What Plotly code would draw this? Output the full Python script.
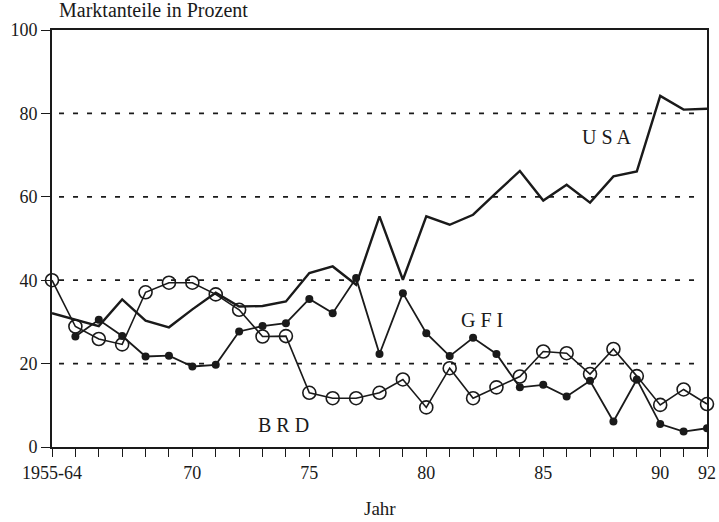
import plotly.graph_objects as go

years = list(range(64, 93))

usa = [32.1, 30.5, 29.0, 35.4, 30.3, 28.7, 33.0, 37.0, 33.7, 33.8, 34.9, 41.7, 43.3, 38.9, 55.3, 40.1,
       55.3, 53.3, 55.7, 61.0, 66.2, 59.1, 62.9, 58.6, 64.9, 66.1, 84.2, 80.9, 81.1]

gfi_years = list(range(65, 93))
gfi = [26.5, 30.5, 26.6, 21.7, 21.9, 19.3, 19.7, 27.7, 29.0, 29.7, 35.5, 32.1, 40.5, 22.3, 36.9,
       27.3, 21.8, 26.2, 22.3, 14.3, 14.9, 12.1, 15.9, 6.1, 16.2, 5.5, 3.7, 4.5]

brd = [40.0, 28.9, 25.9, 24.6, 37.1, 39.4, 39.4, 36.6, 32.9, 26.5, 26.6, 13.0, 11.7, 11.7, 13.0,
       16.2, 9.5, 18.9, 11.7, 14.3, 16.9, 22.9, 22.5, 17.5, 23.5, 17.0, 10.1, 13.8, 10.3]

tick_vals = years
tick_labels = {64: "1955-64", 70: "70", 75: "75", 80: "80", 85: "85", 90: "90", 92: "92"}
y_ticks = [0, 20, 40, 60, 80, 100]
grid_levels = [20, 40, 60, 80]

series_labels = [("U S A", 87.7, 74.3), ("G F I", 82.4, 30.5), ("B R D", 73.9, 5.3)]

FONT = "Liberation Serif"
INK = "#1a1a1a"

W, H = 719, 522
ml, mt = 52, 30
mr = W - 707
mb = H - 447
pw, ph = W - ml - mr, H - mt - mb

fig = go.Figure()

for g in grid_levels:
    fig.add_shape(type="line", xref="x", yref="y", x0=64.3, x1=91.8, y0=g, y1=g,
                  line=dict(color=INK, width=1.8, dash="5px,9px"), layer="below")

fig.add_trace(go.Scatter(x=years, y=usa, mode="lines", line=dict(color=INK, width=2.4),
                         showlegend=False))
fig.add_trace(go.Scatter(x=gfi_years, y=gfi, mode="lines+markers", line=dict(color=INK, width=1.8),
                         marker=dict(symbol="circle", size=8, color=INK), showlegend=False))
fig.add_trace(go.Scatter(x=years, y=brd, mode="lines+markers", line=dict(color=INK, width=1.6),
                         marker=dict(symbol="circle-open", size=13, color=INK, line=dict(width=1.6)),
                         showlegend=False, cliponaxis=False))

for txt, xv, yv in series_labels:
    fig.add_annotation(x=xv, y=yv, xref="x", yref="y", text=txt, showarrow=False,
                       font=dict(family=FONT, size=20, color=INK))

fig.add_annotation(x=(57 - ml) / pw, y=(H - 23 - mb) / ph, xref="paper", yref="paper",
                   xanchor="left", yanchor="bottom",
                   text="Marktanteile in Prozent", showarrow=False,
                   font=dict(family=FONT, size=20, color=INK))

fig.add_annotation(x=(380 - ml) / pw, y=(H - 508 - mb) / ph, xref="paper", yref="paper",
                   xanchor="center", yanchor="middle", text="Jahr", showarrow=False,
                   font=dict(family=FONT, size=19, color=INK))

fig.update_layout(
    width=W, height=H,
    margin=dict(l=ml, r=mr, t=mt, b=mb, autoexpand=False),
    paper_bgcolor="white", plot_bgcolor="white",
    font=dict(family=FONT, size=17, color=INK),
    xaxis=dict(range=[64, 92], tickmode="array", tickvals=tick_vals,
               ticktext=[tick_labels.get(v, "") for v in tick_vals], automargin=False,
               showgrid=False, zeroline=False, showline=True, linecolor=INK, linewidth=2,
               mirror=True, ticks="outside", ticklen=8, tickwidth=1.3, tickcolor=INK,
               tickfont=dict(family=FONT, size=18, color=INK)),
    yaxis=dict(range=[0, 100], tickmode="array", tickvals=y_ticks, automargin=False,
               showgrid=False, zeroline=False, showline=True, linecolor=INK, linewidth=2,
               mirror=True, ticks="outside", ticklen=9, tickwidth=1.3, tickcolor=INK,
               tickfont=dict(family=FONT, size=18, color=INK)),
)

fig.write_html("out.html", config={"displayModeBar": False},
               post_script="document.body.style.margin='0';document.body.style.overflow='hidden';")
